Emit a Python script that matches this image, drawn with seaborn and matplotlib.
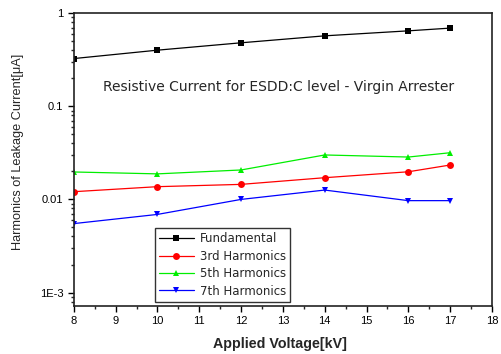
import numpy as np
import matplotlib
matplotlib.use('Agg')
import matplotlib.pyplot as plt
import seaborn as sns
import pandas as pd
from matplotlib.ticker import LogLocator, FixedLocator, MultipleLocator

sns.set_style('ticks')
plt.rcParams['font.family'] = ['Liberation Sans', 'DejaVu Sans']

voltage = [8, 10, 12, 14, 16, 17]
fundamental = [0.325, 0.40, 0.48, 0.57, 0.645, 0.69]
third = [0.0121, 0.0137, 0.0145, 0.0171, 0.0198, 0.0234]
fifth = [0.0197, 0.0188, 0.0207, 0.030, 0.0285, 0.0317]
seventh = [0.0055, 0.0069, 0.0100, 0.0126, 0.0097, 0.0097]
names = ['Fundamental', '3rd Harmonics', '5th Harmonics', '7th Harmonics']

df = pd.DataFrame({'Voltage': voltage * 4,
                   'Current': fundamental + third + fifth + seventh,
                   'Series': sum([[n] * len(voltage) for n in names], [])})

colors = ['#000000', '#ff0000', '#00ee00', '#0000ff']
markers = ['s', 'o', '^', 'v']

fig = plt.figure(figsize=(5.02, 3.54), dpi=100)
ax = fig.add_axes([0.147, 0.136, 0.833, 0.827])
g = sns.lineplot(data=df, x='Voltage', y='Current', hue='Series', style='Series',
                 palette=colors, markers=markers, dashes=False, markersize=5,
                 markeredgewidth=0, linewidth=0.9, ax=ax)

ax.set_yscale('log')
ax.set_xlim(8, 18)
ax.set_ylim(7.2e-4, 1)
ax.xaxis.set_major_locator(MultipleLocator(1))
ax.xaxis.set_minor_locator(MultipleLocator(0.5))
ax.yaxis.set_major_locator(FixedLocator([1e-3, 1e-2, 1e-1, 1]))
ax.yaxis.set_minor_locator(LogLocator(base=10, subs=np.arange(2, 10)))
ax.set_yticklabels(['1E-3', '0.01', '0.1', '1'])
ax.tick_params(axis='both', which='major', direction='out', length=4.5, width=1,
               labelsize=8, colors='black', pad=3)
ax.tick_params(axis='both', which='minor', direction='out', length=2.5, width=1)
ax.yaxis.set_tick_params(which='minor', labelleft=False)
for s in ax.spines.values():
    s.set_linewidth(1.2)
    s.set_color('#222222')

ax.set_xlabel('Applied Voltage[kV]', fontsize=10.3, fontweight='bold')
ax.set_ylabel('Harmonics of Leakage Current[\u03bcA]', fontsize=9.2)
ax.xaxis.set_label_coords(0.493, -0.107)
ax.yaxis.set_label_coords(-0.118, 0.526)

ax.text(12.9, 0.16, 'Resistive Current for ESDD:C level - Virgin Arrester',
        ha='center', va='center', fontsize=10, family=['DejaVu Sans'])

leg = ax.legend(loc='lower left', bbox_to_anchor=(0.193, 0.014),
                prop={'family': 'DejaVu Sans', 'size': 8.5},
                frameon=True, fancybox=False, edgecolor='black',
                handlelength=3, borderpad=0.35, labelspacing=0.38,
                handletextpad=0.5, borderaxespad=0)
leg.get_frame().set_linewidth(1.0)

fig.savefig('out.png', dpi=100)
